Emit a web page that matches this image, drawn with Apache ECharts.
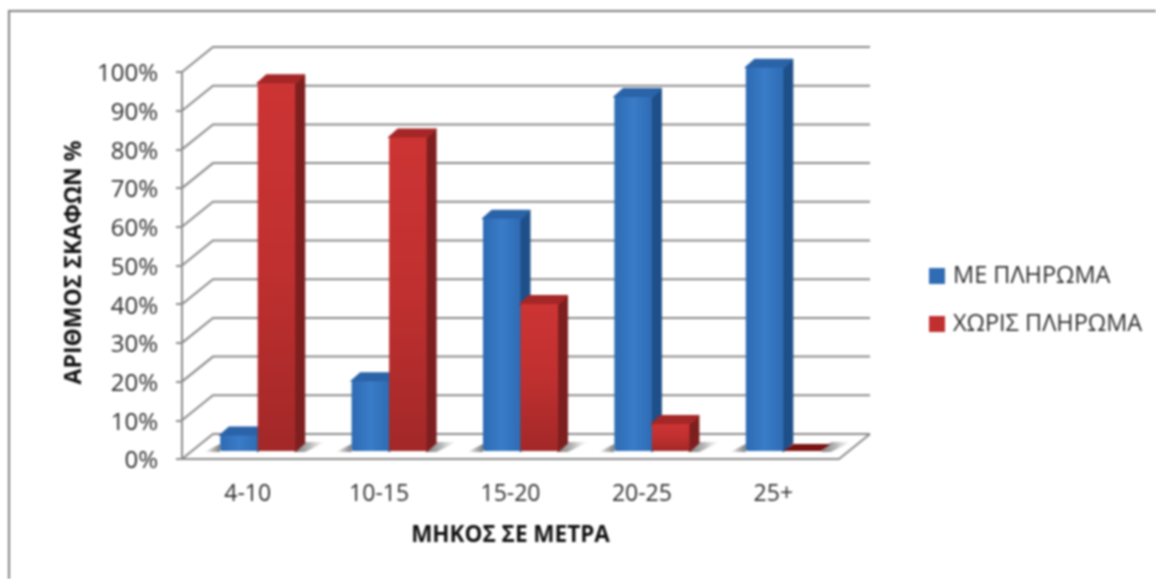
<!DOCTYPE html>
<html><head><meta charset="utf-8">
<style>html,body{margin:0;padding:0;background:#fff;overflow:hidden}
#c{width:1156px;height:579px;filter:blur(0.8px)}</style>
<script src="https://cdn.jsdelivr.net/npm/echarts@6/dist/echarts.min.js"></script>
</head><body><div id="c"></div>
<script>
const categories = ['4-10','10-15','15-20','20-25','25+'];
const withCrew = [4,18,60,91.5,99];
const withoutCrew = [95,81,38,7,0];
const yTicks = [0,10,20,30,40,50,60,70,80,90,100];
const FONT = '"Open Sans","Noto Sans",sans-serif';
const WALL = [31,-25], BAR_OFF = [10,-8], DEPTH = [10,-9];

function grad(a,b,c,horizontal){
  return {type:'linear',x:0,y:0,x2:horizontal?1:0,y2:horizontal?0:1,
    colorStops:[{offset:0,color:a},{offset:.5,color:b},{offset:1,color:c}]};
}
function shadowFill(dir){
  return {type:'linear',x:dir<0?1:0,y:0,x2:dir<0?0:1,y2:0,colorStops:[{offset:0,color:'rgba(70,70,70,.7)'},{offset:.5,color:'rgba(100,100,100,.45)'},{offset:1,color:'rgba(150,150,150,0)'}]};
}
function barRenderer(dir,pal){
  return function(params,api){
    const i=api.value(0), v=api.value(1);
    const w=api.size([1,0])[0]*0.2854;
    const t=api.coord([i,v]), b=api.coord([i,0]);
    const cx=t[0]+BAR_OFF[0], top=t[1]+BAR_OFF[1], bot=b[1]+BAR_OFF[1];
    const x0=dir<0?cx-w:cx, x1=dir<0?cx:cx+w;
    const dx=DEPTH[0], dy=DEPTH[1];
    const kids=[];
    if(dir<0){
      kids.push({type:'polygon',silent:true,shape:{points:[[x0,bot+1],[x0,bot-7],[x0-16,bot+1]]},style:{fill:shadowFill(-1)}});
    }else{
      kids.push({type:'polygon',silent:true,shape:{points:[[x1,bot+1],[x1+dx,bot+dy],[x1+dx+20,bot+dy],[x1+10,bot+1]]},style:{fill:shadowFill(1)}});
    }
    const round=c=>({fill:c,stroke:c,lineWidth:2,lineJoin:'round'});
    if(v>0){
      kids.push({type:'polygon',shape:{points:[[x1,top],[x1+dx-1,top+dy+1],[x1+dx-1,bot+dy+1],[x1,bot]]},style:round(pal.side)});
      kids.push({type:'polygon',shape:{points:[[x0,top],[x0+dx-1,top+dy+1],[x1+dx-1,top+dy+1],[x1,top]]},style:round(pal.top)});
      kids.push({type:'rect',shape:{x:x0,y:top,width:x1-x0,height:bot-top,r:[3,0,2,2]},style:{fill:pal.front}});
    }else{
      kids.push({type:'polygon',shape:{points:[[x0,bot],[x0+dx,bot+dy+2],[x1+dx,bot+dy+2],[x1,bot]]},style:{fill:pal.flat}});
    }
    return {type:'group',children:kids};
  };
}
function gridRenderer(params,api){
  const v=api.value(1), p=api.coord([0,v]), cs=params.coordSys;
  const x0=cs.x, x1=cs.x+cs.width, y=p[1];
  const st={stroke:'#8a8a8a',lineWidth:2,fill:null};
  const kids=[{type:'polyline',shape:{points:[[x0,y],[x0+WALL[0],y+WALL[1]],[x1+WALL[0],y+WALL[1]]]},style:st}];
  if(v===0) kids.push({type:'line',shape:{x1:x1,y1:y,x2:x1+WALL[0],y2:y+WALL[1]},style:st});
  return {type:'group',children:kids};
}
const blue={front:grad('#2d6ab2','#3a7cc8','#2e6cb4',true),side:'#1f4f88',top:'#2a63a8',flat:'#1f4f88'};
const red={front:grad('#cd3434','#c03030','#a32828',false),side:'#7e1f1f',top:'#a52626',flat:'#7a1212'};

const chart=echarts.init(document.getElementById('c'),null,{width:1156,height:579,renderer:'canvas'});
chart.setOption({
  animation:false,
  backgroundColor:'#fff',
  grid:{left:182,top:72,width:657,height:387,containLabel:false},
  graphic:[
    {type:'polyline',silent:true,z:-1,shape:{points:[[9,579],[9,11],[1156,11]]},style:{stroke:'#808080',lineWidth:2,fill:null}}
  ],
  legend:{
    orient:'vertical',left:924,top:259,itemWidth:16,itemHeight:16,itemGap:24,icon:'rect',
    data:['ΜΕ ΠΛΗΡΩΜΑ','ΧΩΡΙΣ ΠΛΗΡΩΜΑ'],
    textStyle:{fontFamily:FONT,fontSize:23.5,color:'#2c2c2c',padding:[0,0,0,3]}
  },
  xAxis:{type:'category',data:categories,name:'ΜΗΚΟΣ ΣΕ ΜΕΤΡΑ',nameLocation:'middle',nameGap:65,
    nameTextStyle:{fontFamily:FONT,fontSize:22.5,fontWeight:'bold',color:'#111'},
    axisLine:{show:true,lineStyle:{color:'#8a8a8a',width:2}},axisTick:{show:false},
    axisLabel:{fontFamily:FONT,fontSize:23,color:'#2c2c2c',margin:24},splitLine:{show:false}},
  yAxis:{type:'value',min:0,max:100,interval:10,name:'ΑΡΙΘΜΟΣ ΣΚΑΦΩΝ %',nameLocation:'middle',nameGap:96,nameRotate:90,
    nameTextStyle:{fontFamily:FONT,fontSize:23,fontWeight:'bold',color:'#111',padding:[0,0,0,6]},
    axisLine:{show:true,lineStyle:{color:'#8a8a8a',width:2}},
    axisTick:{show:true,length:6,lineStyle:{color:'#8a8a8a',width:2}},
    axisLabel:{formatter:'{value}%',fontFamily:FONT,fontSize:24,color:'#2c2c2c',margin:24,verticalAlign:'top',lineHeight:5},splitLine:{show:false}},
  series:[
    {type:'custom',name:'grid',silent:true,clip:false,z:1,renderItem:gridRenderer,data:yTicks.map(v=>[0,v]),encode:{x:0,y:1}},
    {type:'custom',name:'ΜΕ ΠΛΗΡΩΜΑ',clip:false,z:3,itemStyle:{color:'#2f6cb3'},renderItem:barRenderer(-1,blue),data:withCrew.map((v,i)=>[i,v]),encode:{x:0,y:1}},
    {type:'custom',name:'ΧΩΡΙΣ ΠΛΗΡΩΜΑ',clip:false,z:4,itemStyle:{color:'#c03030'},renderItem:barRenderer(1,red),data:withoutCrew.map((v,i)=>[i,v]),encode:{x:0,y:1}}
  ]
});
</script></body></html>
